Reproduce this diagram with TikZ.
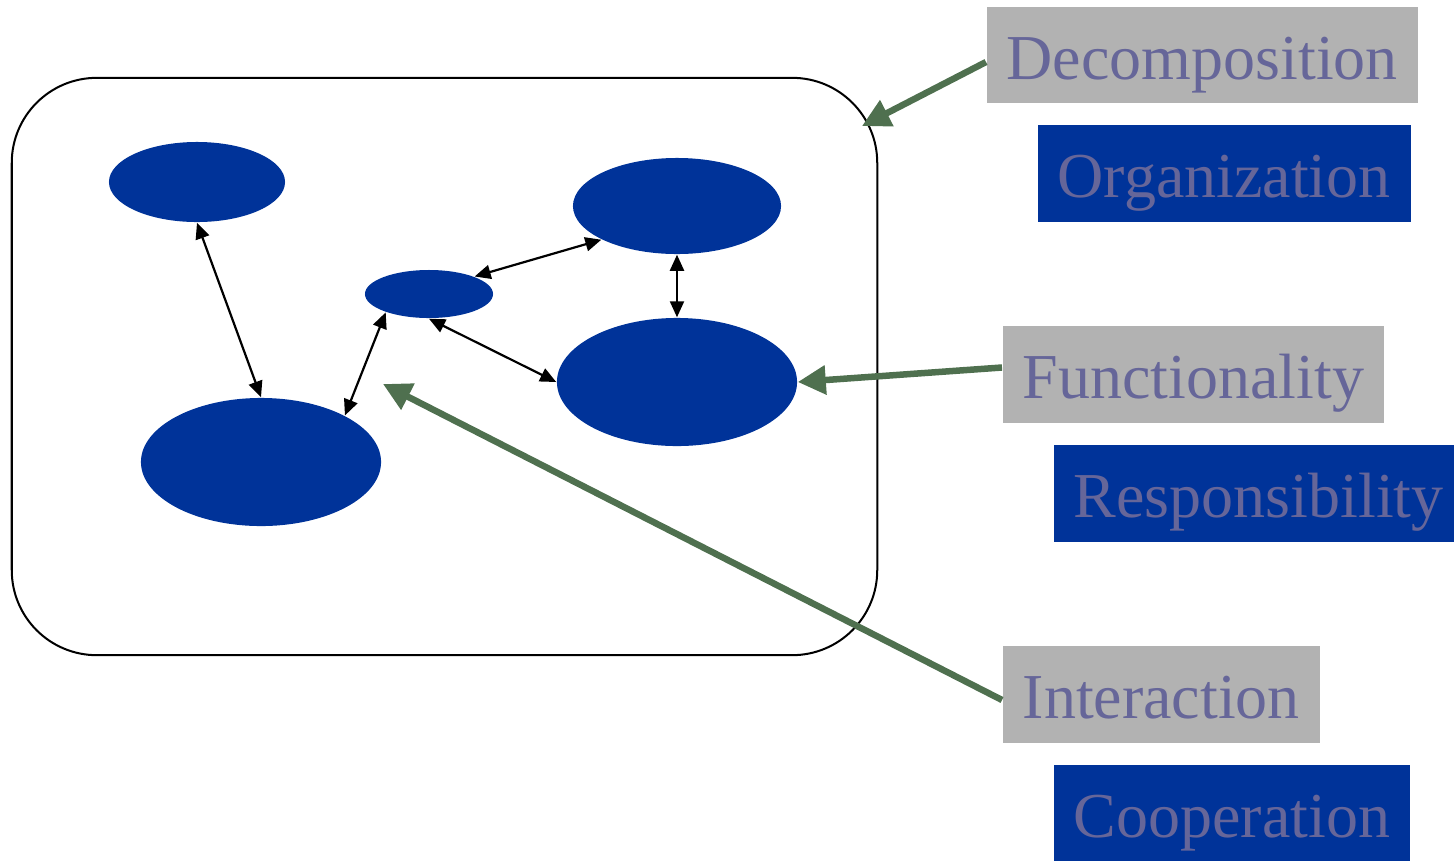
\documentclass[tikz,border=0pt]{standalone}
\usepackage{fontspec}
\setmainfont{Liberation Serif}
\usepackage{xcolor}
\usepackage{tikz}
\usetikzlibrary{shapes.geometric,arrows.meta,positioning,calc}
\definecolor{compblue}{HTML}{003399}
\definecolor{labelgray}{HTML}{B2B2B2}
\definecolor{labeltext}{HTML}{666699}
\definecolor{pointgreen}{HTML}{4F704F}

\begin{document}
\begin{tikzpicture}[
    x=0.01cm, y=-0.01cm,
    comp/.style={ellipse, fill=compblue, inner sep=0pt},
    aspect/.style={anchor=west, fill=labelgray, text=labeltext, inner xsep=0.2cm, inner ysep=0.06cm, text height=0.66cm, text depth=0.18cm, font=\fontsize{18.2}{22}\selectfont},
    meaning/.style={aspect, fill=compblue},
    link/.style={{Triangle[length=0.16cm,width=0.14cm]}-{Triangle[length=0.16cm,width=0.14cm]}, line width=0.022cm},
    pointer/.style={-{Triangle[length=0.28cm,width=0.28cm]}, line width=0.065cm, draw=pointgreen}
]
    \useasboundingbox (0,0) rectangle (1454,860);

    % System boundary
    \node[draw, line width=0.02cm, rounded corners=0.85cm, minimum width=8.65cm, minimum height=5.77cm, inner sep=0pt] (sys) at (444.5,366.5) {};

    % Components
    \node[comp, minimum width=1.76cm, minimum height=0.8cm] (A) at (197,182) {};
    \node[comp, minimum width=1.28cm, minimum height=0.48cm] (B) at (429,294) {};
    \node[comp, minimum width=2.08cm, minimum height=0.96cm] (C) at (677,206) {};
    \node[comp, minimum width=2.4cm, minimum height=1.28cm] (D) at (677,382) {};
    \node[comp, minimum width=2.4cm, minimum height=1.28cm] (E) at (261,462) {};

    % Links
    \draw[link] (A.south) -- (E.north);
    \draw[link] (E.29) -- (B.203);
    \draw[link] (B.21) -- (C.204);
    \draw[link] (B.south) -- (D.west);
    \draw[link] (C.south) -- (D.north);

    % Aspects
    \node[aspect] (dec) at (986,55) {Decomposition};
    \node[meaning] (org) at (1037,173.5) {Organization};
    \node[aspect] (func) at (1002,374.5) {Functionality};
    \node[meaning] (resp) at (1053,493.5) {Responsibility};
    \node[aspect] (inter) at (1002,694.5) {Interaction};
    \node[meaning] (coop) at (1053,813.5) {Cooperation};

    % Pointers
    \coordinate (dectip) at (862,126);
    \coordinate (intertip) at (383,384);
    \draw[pointer] ([yshift=-0.07cm]dec.west) -- (dectip);
    \draw[pointer] ([yshift=0.07cm]func.west) -- (D.east);
    \draw[pointer] ([yshift=-0.055cm]inter.west) -- (intertip);
\end{tikzpicture}
\end{document}
